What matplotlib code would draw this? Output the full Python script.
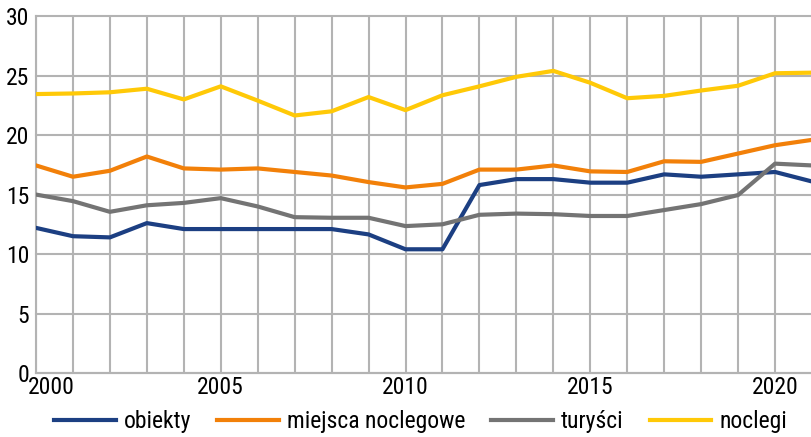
import matplotlib.pyplot as plt
from matplotlib.transforms import ScaledTranslation

# dane
lata = list(range(2000, 2022))
obiekty = [12.2, 11.5, 11.4, 12.6, 12.1, 12.1, 12.1, 12.1, 12.1, 11.65, 10.4,
           10.4, 15.8, 16.3, 16.3, 16.0, 16.0, 16.7, 16.5, 16.7, 16.9, 16.1]
miejsca = [17.45, 16.5, 17.0, 18.2, 17.2, 17.1, 17.2, 16.9, 16.6, 16.05, 15.6,
           15.9, 17.1, 17.1, 17.45, 16.95, 16.9, 17.8, 17.75, 18.45, 19.15, 19.6]
turysci = [15.0, 14.45, 13.55, 14.1, 14.3, 14.7, 14.0, 13.1, 13.05, 13.05, 12.35,
           12.5, 13.3, 13.4, 13.35, 13.2, 13.2, 13.7, 14.2, 14.96, 17.6, 17.45]
noclegi = [23.45, 23.5, 23.6, 23.9, 23.0, 24.1, 22.9, 21.65, 22.0, 23.2, 22.1,
           23.35, 24.1, 24.9, 25.4, 24.4, 23.1, 23.3, 23.75, 24.15, 25.2, 25.25]

serie = [
    ("obiekty", obiekty, "#1c3f82"),
    ("miejsca noclegowe", miejsca, "#f28009"),
    ("turyści", turysci, "#747474"),
    ("noclegi", noclegi, "#ffc907"),
]

plt.rcParams["font.family"] = ["Roboto Condensed", "DejaVu Sans"]

fig = plt.figure(figsize=(8.12, 4.37), dpi=100)
ax = fig.add_axes([0.0443, 0.1465, 0.9557, 0.8165])

for nazwa, wartosci, kolor in serie:
    ax.plot(lata, wartosci, color=kolor, linewidth=3, label=nazwa, zorder=3)

ax.set_xlim(2000, 2020.86)
ax.set_ylim(0, 30)
ax.set_xticks(range(2000, 2021, 5))
ax.set_xticks(range(2000, 2022), minor=True)
ax.set_yticks(range(0, 31, 5))
ax.grid(True, which="both", axis="x", color="#b3b3b3", linewidth=1.5, zorder=0)
ax.grid(True, which="major", axis="y", color="#b3b3b3", linewidth=1.5, zorder=0)
for linia in ax.get_ygridlines():
    linia.set_clip_on(False)
ax.tick_params(which="both", length=0, labelsize=17, colors="black")
ax.tick_params(axis="y", pad=5)
ax.tick_params(axis="x", pad=2)
for s in ["top", "right"]:
    ax.spines[s].set_visible(False)
for s in ["left", "bottom"]:
    ax.spines[s].set_color("#b3b3b3")
    ax.spines[s].set_linewidth(1.5)

# pierwsza etykieta lat przesunięta w prawo, jak w oryginale
pierwsza = ax.get_xticklabels()[0]
pierwsza.set_transform(pierwsza.get_transform() + ScaledTranslation(0.15, 0, fig.dpi_scale_trans))

fig.legend(loc="center", bbox_to_anchor=(0.518, 0.035), ncol=4, frameon=False,
           fontsize=17, handlelength=2.6, handletextpad=0.35, columnspacing=1.1)

fig.savefig("out.png", dpi=100)
